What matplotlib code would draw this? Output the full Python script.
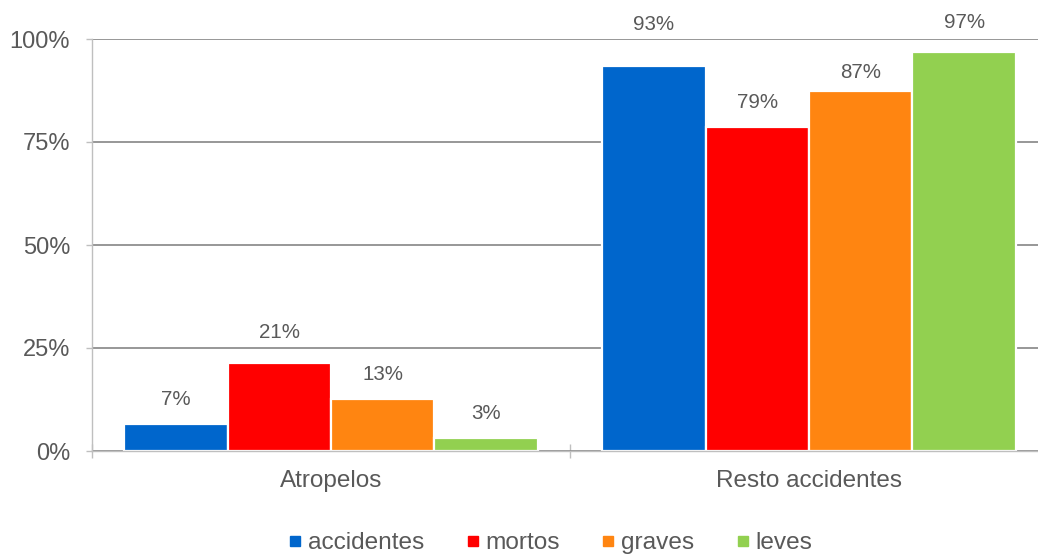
import matplotlib
matplotlib.use("Agg")
import matplotlib.pyplot as plt
from matplotlib.lines import Line2D
from matplotlib.ticker import FixedLocator, FuncFormatter

# Share of pedestrian run-overs vs. the remaining accidents, per outcome
categories = ["Atropelos", "Resto accidentes"]
series = ["accidentes", "mortos", "graves", "leves"]
accidentes = [6.6, 93.4]
mortos = [21.4, 78.6]
graves = [12.6, 87.4]
leves = [3.2, 96.8]
yticks = [0, 25, 50, 75, 100]

values = [accidentes, mortos, graves, leves]
colors = ["#0066CC", "#FF0000", "#FF8511", "#92D050"]
# label gap above each bar (pixels), per series then per category
label_gap_px = [[19, 36], [25, 19], [19, 13], [19, 24]]

TEXT = "#595959"
GRID = "#858585"
AXIS = "#BFBFBF"
DPI = 100
W, H = 1038, 558

plt.rcParams["font.family"] = ["Liberation Sans", "DejaVu Sans"]

fig = plt.figure(figsize=(W / DPI, H / DPI), dpi=DPI)
ax = fig.add_axes([92 / W, (H - 451) / H, 956 / W, 412 / H])

bar_w = 0.2165
n = len(series)
for i, (name, vals, col) in enumerate(zip(series, values, colors)):
    xs = [c + (i - (n - 1) / 2) * bar_w for c in range(len(categories))]
    bars = ax.bar(xs, vals, width=bar_w, color=col, edgecolor="white",
                  linewidth=1.6, zorder=3, label=name)
    for j, (b, v) in enumerate(zip(bars, vals)):
        ax.annotate(f"{v:.0f}%", (b.get_x() + b.get_width() / 2, v),
                    xytext=(0, label_gap_px[i][j] * 72 / DPI),
                    textcoords="offset points", ha="center", va="baseline",
                    fontsize=14.8, color=TEXT, zorder=4)

ax.set_xlim(-0.5, 1.5)
ax.set_ylim(0, 100)

# y axis
ax.yaxis.set_major_locator(FixedLocator(yticks))
ax.yaxis.set_major_formatter(FuncFormatter(lambda v, _: f"{v:.0f}%"))
ax.tick_params(axis="y", direction="out", length=6 * 72 / DPI, width=1,
               color=AXIS, labelcolor=TEXT, labelsize=17, pad=16 * 72 / DPI)
ax.grid(axis="y", color=GRID, linewidth=1.2, zorder=0)
ax.set_axisbelow(True)

# x axis: category labels centred, tick marks at category boundaries
ax.set_xticks([0, 1])
ax.set_xticklabels(categories)
ax.tick_params(axis="x", which="major", length=0, labelcolor=TEXT,
               labelsize=17.5, pad=19 * 72 / DPI)
ax.set_xticks([-0.5, 0.5, 1.5], minor=True)
ax.tick_params(axis="x", which="minor", direction="inout",
               length=14 * 72 / DPI, width=1, color=AXIS)

for side in ("top", "right"):
    ax.spines[side].set_visible(False)
for side in ("left", "bottom"):
    ax.spines[side].set_color(AXIS)
    ax.spines[side].set_linewidth(1)
    ax.spines[side].set_zorder(5)

handles = [Line2D([], [], linestyle="none", marker="s", markersize=7.2,
                  markerfacecolor=c, markeredgecolor=c) for c in colors]
fig.legend(handles, series, loc="center", bbox_to_anchor=(551 / W, 1 - 543 / H),
           ncol=4, frameon=False, fontsize=17.6, labelcolor=TEXT,
           handlelength=0.45, handletextpad=0.3, columnspacing=1.75,
           borderpad=0, borderaxespad=0)

fig.savefig("out.png", dpi=DPI, facecolor="white")
